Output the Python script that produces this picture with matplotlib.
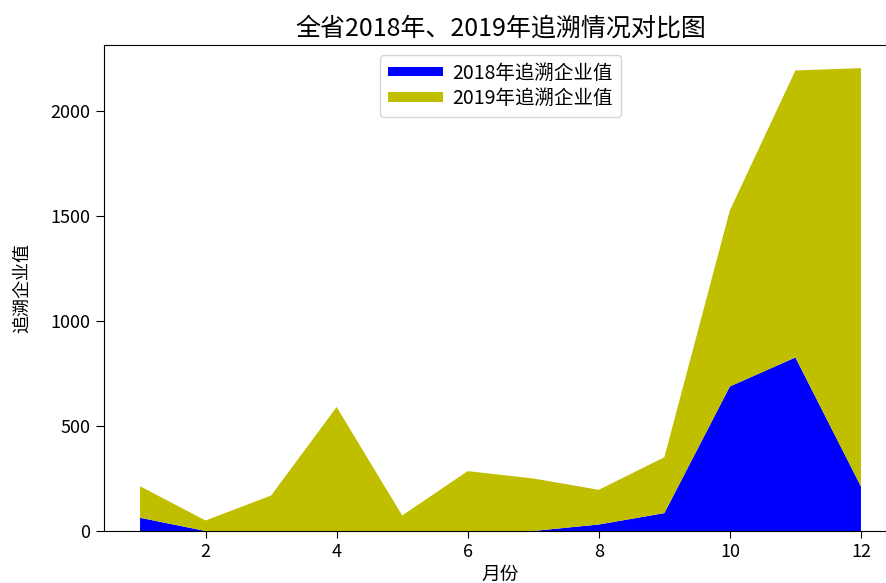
import matplotlib
matplotlib.use("Agg")
import matplotlib.pyplot as plt

plt.rcParams['font.family'] = ['Noto Sans CJK SC', 'DejaVu Sans']
plt.rcParams['axes.unicode_minus'] = False

months = [1, 2, 3, 4, 5, 6, 7, 8, 9, 10, 11, 12]
values_2018 = [63, 0, 0, 0, 0, 0, 0, 31, 85, 688, 826, 212]
values_2019 = [150, 50, 169, 590, 74, 285, 250, 165, 266, 838, 1366, 1991]
labels = ['2018年追溯企业值', '2019年追溯企业值']
colors = ['b', 'y']

fig = plt.figure(figsize=(8.87, 5.83), dpi=100)
ax = fig.add_axes([104/887, 1 - 531/583, (897 - 104)/887, (531 - 45)/583])
ax.stackplot(months, values_2018, values_2019, labels=labels, colors=colors)
ax.spines['right'].set_visible(False)
ax.set_title('全省2018年、2019年追溯情况对比图', fontsize=18, pad=7)
ax.set_xlabel('月份', fontsize=13.5, labelpad=2)
ax.set_ylabel('追溯企业值', fontsize=13, labelpad=14)
ax.tick_params(axis='y', labelsize=13, length=6, pad=4)
ax.tick_params(axis='x', labelsize=13, length=5)
ax.legend(loc='upper center', fontsize=14, handlelength=2.8,
          handleheight=0.4, handletextpad=0.5, labelspacing=0.25,
          borderaxespad=0.5)
fig.savefig('out.png', dpi=100)
